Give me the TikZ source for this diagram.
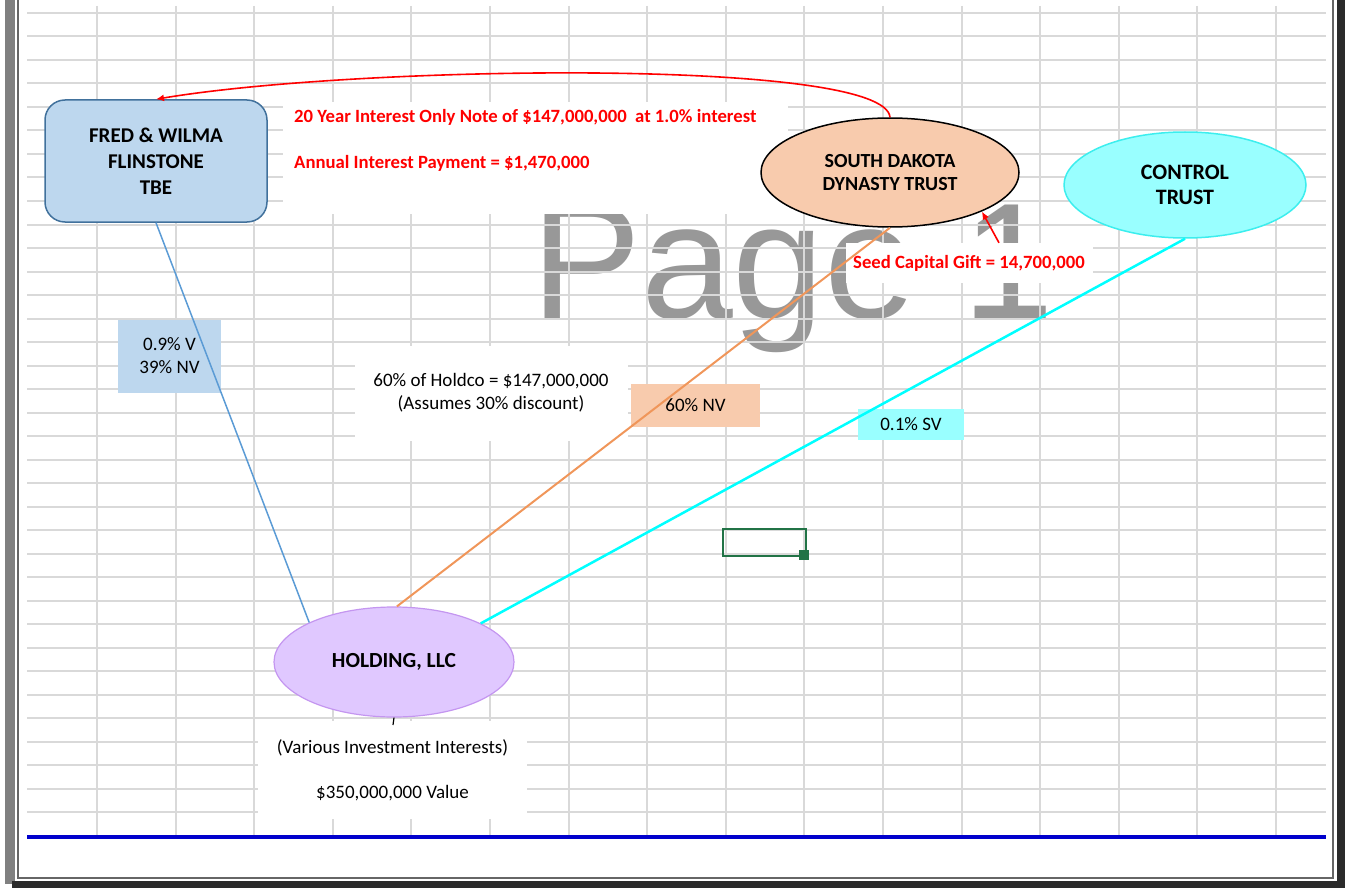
\documentclass[tikz,border=0pt]{standalone}
\usepackage{fontspec}
\setmainfont{Carlito}
\newfontfamily\markfont{Liberation Sans}
\usetikzlibrary{shapes.geometric,arrows.meta}

\definecolor{fredblue}{RGB}{189,215,238}
\definecolor{fredline}{RGB}{65,113,156}
\definecolor{sdpeach}{RGB}{248,203,173}
\definecolor{ctlcyan}{RGB}{153,255,255}
\definecolor{ctlline}{RGB}{60,238,238}
\definecolor{holdlav}{RGB}{224,200,255}
\definecolor{holdline}{RGB}{196,150,240}
\definecolor{gridgray}{RGB}{217,217,217}
\definecolor{markgray}{RGB}{152,152,152}
\definecolor{linkblue}{RGB}{91,155,213}
\definecolor{linkorange}{RGB}{240,150,90}
\definecolor{linkcyan}{RGB}{0,255,255}
\definecolor{notered}{RGB}{255,0,0}
\definecolor{cellgreen}{RGB}{33,115,70}
\definecolor{pageblue}{RGB}{0,0,204}
\definecolor{darkband}{RGB}{43,43,43}

\tikzset{
	gridline/.style={line width=2pt, color=gridgray},
	plain/.style={font=\fontsize{19}{23}\selectfont, inner sep=0pt, align=center},
	title/.style={font=\bfseries\fontsize{20}{23}\selectfont, inner sep=0pt, align=center},
	rednote/.style={font=\bfseries\fontsize{18.7}{46}\selectfont, text=notered, inner sep=0pt},
	whitebox/.style={plain, fill=white},
	redlink/.style={line width=1.6pt, color=notered, -{Latex[length=8pt,width=7pt]}}
}

\begin{document}
\begin{tikzpicture}[x=1pt, y=-1pt]
			%%%%% START %%%%%
			\useasboundingbox (0,0) rectangle (1345,888);
			
			% watermark behind the cells
			\node[font=\markfont\fontsize{165}{165}\selectfont, text=markgray, anchor=base west, inner sep=0pt] (pagemark) at (531,318) {Page 1};
			
			% sheet grid
			\foreach \r in {0,...,34}
				\draw[gridline] (27,{13+23.5*\r}) -- (1326,{13+23.5*\r});
			\foreach \c in {0,...,15}
				\draw[gridline] ({97+78.6*\c},6) -- ({97+78.6*\c},835);
			\draw[line width=4pt, color=pageblue] (27,837) -- (1326,837);
			
			% window frame
			\fill[color=black!50] (5,0) rectangle (15,884);
			\draw[line width=2pt, color=black!60] (18,0) -- (18,878) -- (1333,878) -- (1333,0);
			\fill[darkband] (1337,0) rectangle (1345,888);
			\fill[darkband] (12,881) rectangle (1345,888);
			
			% active cell
			\draw[line width=2.6pt, color=cellgreen] (723,529) rectangle (806,556);
			\fill[cellgreen] (799,550) rectangle (809,560);
			
			% text boxes
			\node[whitebox, minimum width=505, minimum height=112] (notebox) at (535.5,158) {};
			\node[rednote, anchor=west, align=left] (note) at (294,140) {20 Year Interest Only Note of \$147,000,000~ at 1.0\% interest\\Annual Interest Payment = \$1,470,000};
			\node[whitebox, minimum width=247, minimum height=40, font=\bfseries\fontsize{18.7}{23}\selectfont, text=notered] (seed) at (969,263) {Seed Capital Gift = 14,700,000};
			\node[whitebox, minimum width=273, minimum height=95] (holdco) at (491,393) {60\% of Holdco = \$147,000,000\\(Assumes 30\% discount)};
			\node[whitebox, minimum width=269, minimum height=98, font=\fontsize{19}{45}\selectfont] (values) at (392.5,770) {(Various Investment Interests)\\\$350,000,000 Value};
			
			% owners
			\node[title, font=\bfseries\fontsize{21}{26}\selectfont, rectangle, rounded corners=20pt, draw=fredline, line width=1.5pt, fill=fredblue, minimum width=222, minimum height=122] (fred) at (156,161) {FRED \& WILMA\\FLINSTONE\\TBE};
			\node[title, ellipse, draw=black, line width=1.5pt, fill=sdpeach, minimum width=258, minimum height=109] (sd) at (890,172.5) {SOUTH DAKOTA\\DYNASTY TRUST};
			\node[title, font=\bfseries\fontsize{22}{25}\selectfont, ellipse, draw=ctlline, line width=1.5pt, fill=ctlcyan, minimum width=242, minimum height=106] (control) at (1185,185) {CONTROL\\TRUST};
			\node[title, font=\bfseries\fontsize{21.5}{25}\selectfont, ellipse, draw=holdline, line width=1.2pt, fill=holdlav, minimum width=240, minimum height=110] (holding) at (394,662) {HOLDING, LLC};
			
			% interest labels
			\node[plain, fill=fredblue, minimum width=103, minimum height=73] (fredpct) at (169.5,356) {0.9\% V\\39\% NV};
			\node[plain, fill=sdpeach, minimum width=129, minimum height=43] (sdpct) at (695.5,405) {60\% NV};
			\node[plain, fill=ctlcyan, minimum width=106, minimum height=31] (ctlpct) at (911,424.5) {0.1\% SV};
			
			% ownership lines
			\draw[line width=1.5pt, color=linkblue] (fred.south) -- (holding.155);
			\draw[line width=2pt, color=linkorange] (sd.south) -- (holding.87);
			\draw[line width=2.5pt, color=linkcyan] (control.south) -- (holding.24);
			\coordinate (tick) at (393,725);
			\draw[line width=1.2pt] (holding.south) -- (tick);
			
			% note and gift
			\draw[redlink] (sd.north) .. controls (885,58) and (360,65) .. (fred.north);
			\draw[redlink] ([xshift=30pt]seed.north) -- (sd.-23);
			
			%%%%% END %%%%%
\end{tikzpicture}
\end{document}
